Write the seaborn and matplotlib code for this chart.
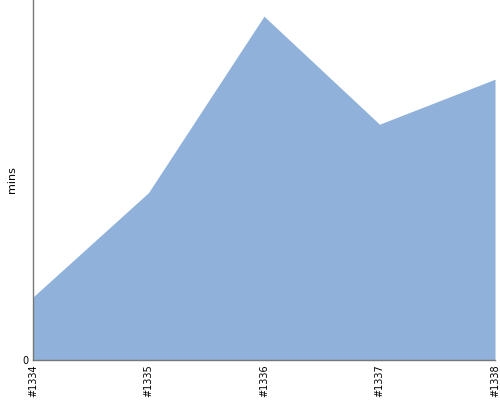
import numpy as np
import matplotlib
matplotlib.use('Agg')
import matplotlib.pyplot as plt
import seaborn as sns

sns.set_style('white')
plt.rcParams['font.family'] = ['DejaVu Sans']

builds = ['#1334', '#1335', '#1336', '#1337', '#1338']
mins = [3.5, 9.3, 19.1, 13.1, 15.6]

fill_color = '#8fb1da'

fig = plt.figure(figsize=(5, 4), dpi=100)
ax = fig.add_axes([0.066, 0.1, 0.924, 0.9])

x = np.arange(len(builds))
sns.lineplot(x=x, y=mins, ax=ax, color=fill_color, linewidth=0)
ax.fill_between(x, mins, 0, color=fill_color, linewidth=0)

ax.set_xlim(0, len(builds) - 1)
ax.set_ylim(0, 20)
ax.set_xticks(x)
ax.set_xticklabels(builds, rotation=90, fontsize=7)
ax.set_yticks([0])
ax.set_yticklabels(['0'], fontsize=7)
ax.set_ylabel('mins', fontsize=8, labelpad=4, color='black')
ax.tick_params(axis='both', length=0, pad=3, labelcolor='black')

for side in ['top', 'right']:
    ax.spines[side].set_visible(False)
for side in ['left', 'bottom']:
    ax.spines[side].set_color('#777777')
    ax.spines[side].set_linewidth(1)

fig.savefig('out.png', dpi=100)
